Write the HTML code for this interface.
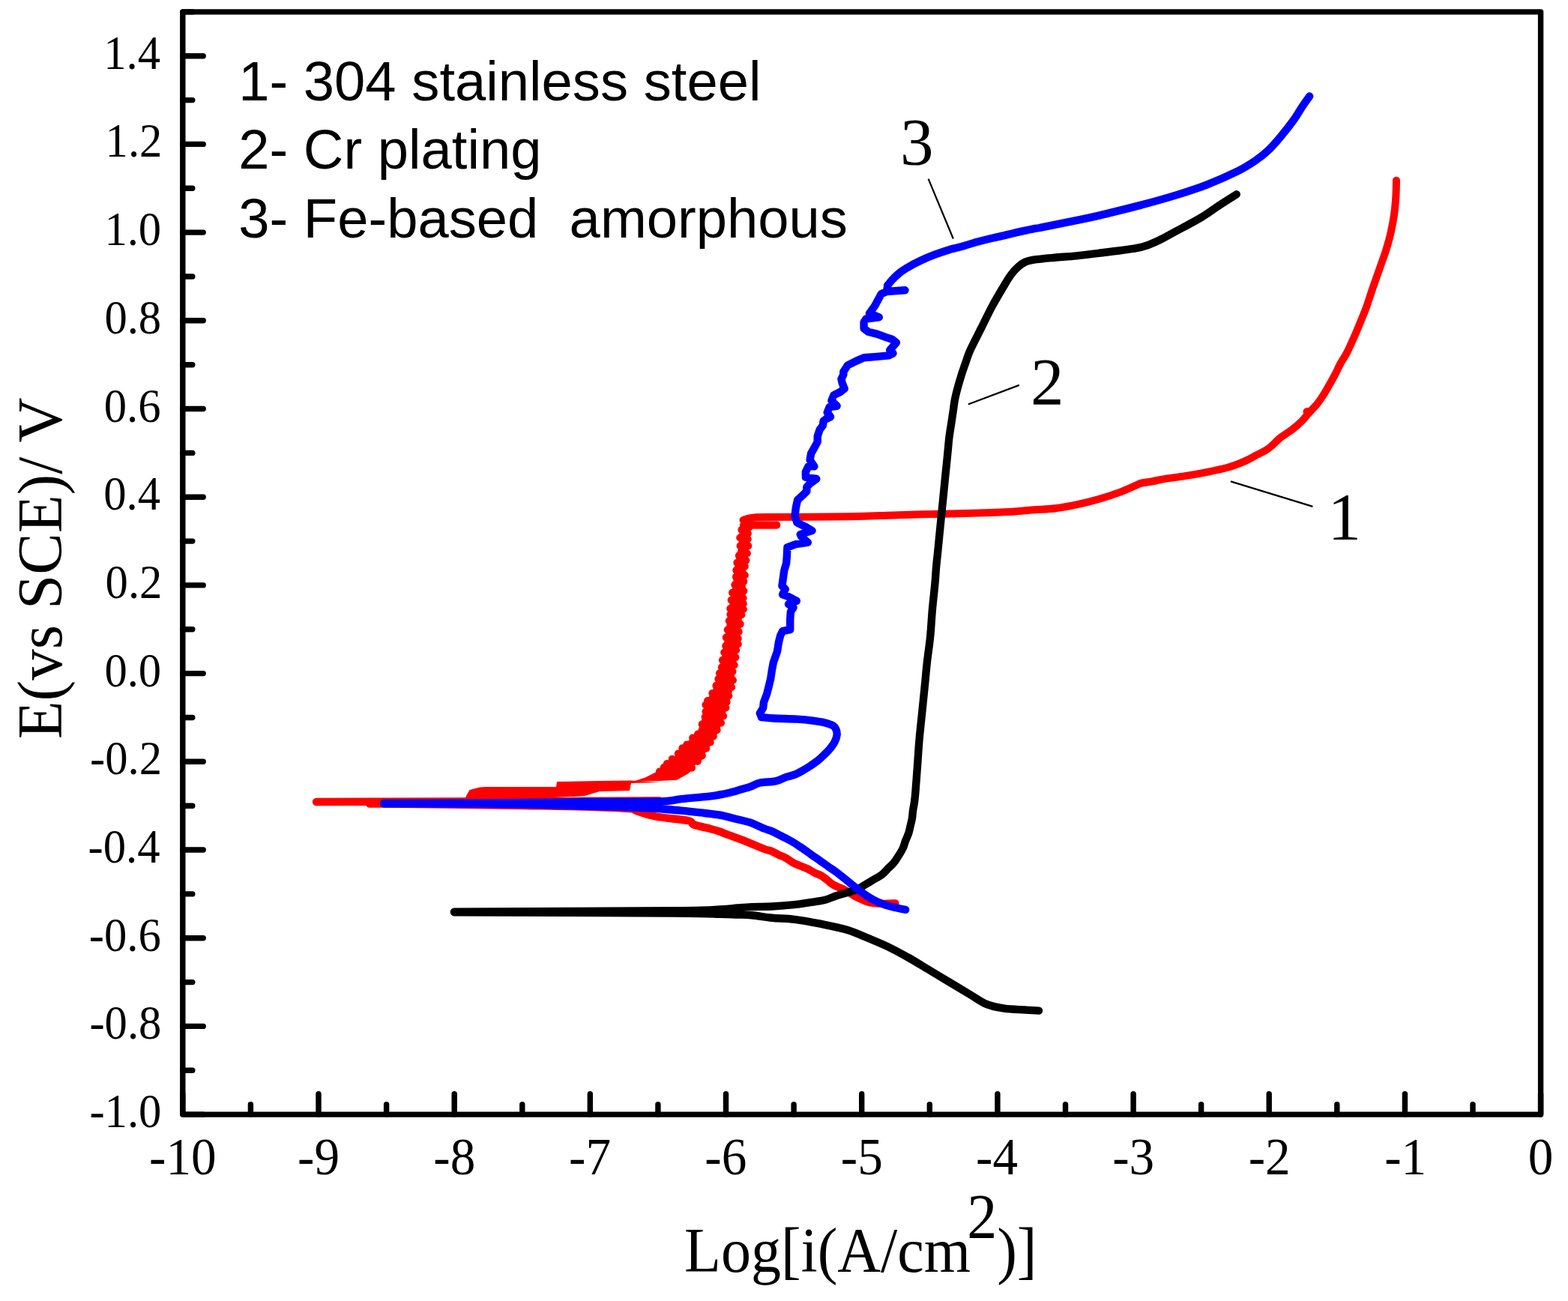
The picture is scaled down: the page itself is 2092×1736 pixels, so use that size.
<!DOCTYPE html><html><head><meta charset="utf-8"><title>Polarization curves</title>
<style>html,body{margin:0;padding:0;background:#fff;overflow:hidden}svg{display:block}</style></head><body>
<svg width="2092" height="1736" viewBox="0 0 2092 1736">
<rect width="100%" height="100%" fill="#fff"/>
<g id="curves">
<polygon points="622.8,1065.9 623.8,1062.8 627.9,1055.7 640.3,1052.5 648.1,1052 743.7,1052 744.7,1045 800,1044 842.3,1043.6 860.8,1037.5 878.2,1028.7 888,1017.7 901.4,1008 908.7,998.2 915.9,991 930.7,976.2 936.9,958.7 940.6,937.2 950.1,922.8 958.7,898.2 963.6,873.8 967.3,849.6 972.1,813.3 978.2,777.1 980.6,752.9 985.4,728.7 986.6,709.2 988.9,695 991.4,688.8 995.1,688.2 1000.1,694.7 1000.8,704.2 999.5,728.2 995.9,752.4 994.7,776.8 994.7,807.9 989.9,824.7 987.5,849 983.8,873.2 980.2,897.5 979,914.3 975.5,927.4 971.8,940.6 965.8,957.5 958.6,976.6 949,993.4 941.7,1003.1 938.2,1012.6 926.4,1022.1 919.2,1031.7 903,1040.8 879.9,1042 840.4,1043 838.4,1053 799.7,1054 779.7,1060 699.9,1064" fill="#ff0000"/>
<polygon points="620,1068 622,1062 626.6,1054 640,1050.5 648,1050 742,1050 743,1043 800,1042 842,1041.6 880,1044 842,1045 840,1055 800,1056 780,1062 700,1066" fill="#ff0000"/>
<g fill="#ff0000"><circle cx="879.9" cy="1029.6" r="5.1"/><circle cx="885.7" cy="1024.1" r="5.1"/><circle cx="889.9" cy="1019.1" r="5.1"/><circle cx="896.8" cy="1012.9" r="5.1"/><circle cx="904.8" cy="1005.5" r="5.1"/><circle cx="910.4" cy="998.3" r="5.1"/><circle cx="916.3" cy="993.5" r="5.1"/><circle cx="924.2" cy="984.6" r="5.1"/><circle cx="931" cy="979.5" r="5.1"/><circle cx="936.7" cy="966.4" r="5.1"/><circle cx="940.6" cy="956.8" r="5.1"/><circle cx="941.5" cy="949.5" r="5.1"/><circle cx="941.5" cy="940.6" r="5.1"/><circle cx="944.1" cy="935" r="5.1"/><circle cx="950.4" cy="925.1" r="5.1"/><circle cx="955.5" cy="914.9" r="5.1"/><circle cx="958.4" cy="906.1" r="5.1"/><circle cx="960" cy="898.3" r="5.1"/><circle cx="962.9" cy="890.4" r="5.1"/><circle cx="964" cy="880.9" r="5.1"/><circle cx="966.2" cy="870.5" r="5.1"/><circle cx="968.3" cy="861.8" r="5.1"/><circle cx="968.8" cy="850.7" r="5.1"/><circle cx="970.8" cy="840.4" r="5.1"/><circle cx="972.8" cy="828.4" r="5.1"/><circle cx="974.5" cy="819.8" r="5.1"/><circle cx="974.3" cy="812.1" r="5.1"/><circle cx="975.7" cy="800.7" r="5.1"/><circle cx="977.1" cy="790.9" r="5.1"/><circle cx="980.4" cy="780.4" r="5.1"/><circle cx="982" cy="769.7" r="5.1"/><circle cx="982.4" cy="760.8" r="5.1"/><circle cx="983.4" cy="750.8" r="5.1"/><circle cx="985.9" cy="741.4" r="5.1"/><circle cx="987.6" cy="728.4" r="5.1"/><circle cx="987.3" cy="717.5" r="5.1"/><circle cx="989.5" cy="706.9" r="5.1"/><circle cx="999" cy="704" r="5.1"/><circle cx="997.8" cy="711.9" r="5.1"/><circle cx="997.7" cy="719.5" r="5.1"/><circle cx="998.2" cy="728.4" r="5.1"/><circle cx="996.8" cy="738.3" r="5.1"/><circle cx="995.3" cy="747.8" r="5.1"/><circle cx="993.7" cy="755.7" r="5.1"/><circle cx="993.8" cy="767.5" r="5.1"/><circle cx="992.3" cy="775.9" r="5.1"/><circle cx="992.3" cy="788.6" r="5.1"/><circle cx="991.5" cy="798" r="5.1"/><circle cx="991.7" cy="805.4" r="5.1"/><circle cx="991.8" cy="813" r="5.1"/><circle cx="989.3" cy="820.4" r="5.1"/><circle cx="987.6" cy="832.7" r="5.1"/><circle cx="985.6" cy="843" r="5.1"/><circle cx="984.7" cy="852" r="5.1"/><circle cx="984.7" cy="859.5" r="5.1"/><circle cx="982.1" cy="867.5" r="5.1"/><circle cx="981.4" cy="877.1" r="5.1"/><circle cx="979.6" cy="887.4" r="5.1"/><circle cx="977.5" cy="896" r="5.1"/><circle cx="977.9" cy="907.6" r="5.1"/><circle cx="976" cy="917" r="5.1"/><circle cx="972.3" cy="928.5" r="5.1"/><circle cx="969.5" cy="936.8" r="5.1"/><circle cx="968.3" cy="944.3" r="5.1"/><circle cx="965.1" cy="955.3" r="5.1"/><circle cx="961.9" cy="964.6" r="5.1"/><circle cx="956.5" cy="974.2" r="5.1"/><circle cx="951.7" cy="982.6" r="5.1"/><circle cx="947.6" cy="990.5" r="5.1"/><circle cx="942.1" cy="998.7" r="5.1"/><circle cx="936.7" cy="1008.3" r="5.1"/><circle cx="930.7" cy="1015.9" r="5.1"/><circle cx="922.9" cy="1024.6" r="5.1"/></g>
<polyline points="422,1070 600,1069.5 880,1068.5" fill="none" stroke="#ff0000" stroke-width="10.4" stroke-linecap="round" stroke-linejoin="round"/>
<path d="M493 1072.5C510.8 1072.7 565.5 1073.1 600 1073.5C634.5 1073.9 670 1074.5 700 1075C730 1075.5 756.7 1075.8 780 1076.5C803.3 1077.2 828.5 1078.1 840 1079C851.5 1079.9 843.2 1080.2 849 1082C854.8 1083.8 863.5 1087.3 875 1089.5C886.5 1091.7 909.5 1093.2 918 1095C926.5 1096.8 921 1098.7 926 1100.5C931 1102.3 942.3 1104.5 948 1106C953.7 1107.5 956.2 1108.2 960 1109.5C963.8 1110.8 965 1111.6 970.6 1113.7C976.2 1115.8 985.3 1118.9 993.5 1122.1C1001.7 1125.3 1014 1130.7 1020 1133C1026 1135.3 1026.4 1134.6 1029.6 1135.9C1032.8 1137.2 1035.9 1139.2 1039.1 1140.7C1042.3 1142.2 1045.5 1143.2 1048.7 1145C1051.9 1146.8 1055 1149.5 1058.2 1151.2C1061.4 1153 1064.6 1154.2 1067.8 1155.5C1071 1156.8 1074.2 1157.8 1077.4 1159.3C1080.6 1160.8 1083.7 1163 1086.9 1164.6C1090.1 1166.2 1093.7 1167.2 1096.5 1168.9C1099.3 1170.6 1101.4 1172.5 1104 1174.5C1106.6 1176.5 1108.1 1178.5 1112.1 1180.8C1116.1 1183.1 1122.8 1185.3 1128.2 1188.1C1133.6 1190.9 1139 1195 1144.4 1197.7C1149.8 1200.4 1155.1 1202.9 1160.5 1204.2C1165.9 1205.5 1170.9 1205.6 1176.6 1205.8C1182.2 1206 1191.4 1205.5 1194.4 1205.4" fill="none" stroke="#ff0000" stroke-width="10.4" stroke-linecap="round" stroke-linejoin="round"/>
<path d="M991.5 694C992.9 693.6 996.9 692.1 1000 691.5C1003.1 690.9 1006.7 690.5 1010 690.3C1013.3 690.1 999.2 690.3 1020 690.1C1040.8 689.9 1106 689.8 1134.7 689.3C1163.4 688.8 1173 688 1192.1 687.4C1211.2 686.8 1230.3 686.4 1249.4 685.9C1268.5 685.4 1289.3 685 1306.8 684.4C1324.3 683.8 1342.4 683.1 1354.6 682.4C1366.8 681.7 1371 681 1380 680.3C1389 679.6 1399.1 679.4 1408.7 678.2C1418.3 677 1427.9 675.1 1437.4 673.1C1447 671.1 1456.5 668.8 1466 666C1475.5 663.2 1486.3 659.7 1494.7 656.6C1503.1 653.5 1511.4 649.3 1516.2 647.3C1521 645.3 1519.8 645.3 1523.4 644.5C1527 643.7 1532.9 643.1 1537.7 642.3C1542.5 641.4 1544.9 640.6 1552.1 639.4C1559.3 638.2 1571.2 636.6 1580.8 635.1C1590.4 633.6 1600 632 1609.5 630.1C1619 628.2 1629.7 626.1 1638.1 623.7C1646.5 621.3 1653.4 618.5 1659.7 615.8C1666 613.1 1670.7 610.3 1676.1 607.4C1681.5 604.5 1686.9 602.4 1692.3 598.5C1697.7 594.6 1703 588.3 1708.4 584C1713.8 579.7 1719.8 576.3 1724.5 572.7C1729.2 569.1 1733 565.9 1736.6 562.3C1740.2 558.7 1742.9 554.8 1746.3 551C1749.7 547.2 1753.7 543.5 1756.8 539.7C1759.9 535.9 1762.1 532.6 1764.8 528.4C1767.5 524.2 1770.2 519.4 1772.9 514.7C1775.6 510 1778.3 505.3 1781 500.2C1783.7 495.1 1786.3 488.9 1789 484C1791.7 479.1 1793.9 476.6 1797 470.6C1800.1 464.6 1804.2 455.3 1807.4 448.1C1810.6 440.9 1813.4 433.7 1816 427.4C1818.6 421.1 1820.3 417.3 1822.9 410.1C1825.5 402.9 1828.4 393.4 1831.6 384.2C1834.8 375 1838.9 363.4 1841.9 354.8C1844.9 346.2 1847.4 339.8 1849.7 332.3C1852 324.8 1854 317.7 1855.7 309.9C1857.4 302.1 1859 293.5 1860.1 285.7C1861.2 277.9 1861.8 270.7 1862.3 263.2C1862.8 255.7 1862.9 244.4 1863 240.7" fill="none" stroke="#ff0000" stroke-width="10" stroke-linecap="round" stroke-linejoin="round"/>
<polyline points="992,700.6 1036.3,700.6" fill="none" stroke="#ff0000" stroke-width="10.2" stroke-linecap="round" stroke-linejoin="round"/>
<circle cx="1744" cy="549.5" r="5.5" fill="#ff0000"/>
<path d="M606 1217.2C655 1217.4 840.8 1218.1 900 1218.5C959.2 1218.9 947 1219.5 961 1219.8C975 1220.1 977 1220.3 984 1220.5C991 1220.7 995.3 1220.5 1003 1221.2C1010.7 1221.9 1020.5 1223.8 1030 1224.7C1039.5 1225.6 1049.2 1225.5 1060 1226.8C1070.8 1228.1 1082.7 1230.3 1094.5 1232.7C1106.3 1235.1 1120.2 1237.7 1130.8 1240.9C1141.4 1244.1 1149 1248 1158.1 1251.8C1167.2 1255.6 1176.2 1259.2 1185.3 1263.6C1194.4 1268 1203.5 1273 1212.6 1278.1C1221.7 1283.2 1230.7 1289 1239.8 1294.4C1248.9 1299.9 1258 1305.3 1267.1 1310.8C1276.2 1316.2 1286.1 1322.2 1294.3 1327.1C1302.5 1331.9 1308.5 1336.8 1316.1 1339.9C1323.7 1343 1331.2 1344.4 1339.7 1345.7C1348.2 1347 1359.3 1347 1367 1347.5C1374.7 1348 1382.8 1348.4 1386 1348.6" fill="none" stroke="#000000" stroke-width="10.4" stroke-linecap="round" stroke-linejoin="round"/>
<path d="M606 1216.6C655 1216.4 840.8 1215.8 900 1215.3C959.2 1214.8 947 1214.1 961 1213.5C975 1212.9 977 1212.1 984 1211.5C991 1210.9 995.3 1210.4 1003 1210.1C1010.7 1209.8 1020.5 1210 1030 1209.5C1039.5 1209 1051.5 1208.1 1060 1207.2C1068.5 1206.3 1074 1205.1 1080.7 1204.1C1087.4 1203.1 1094.1 1202.5 1100 1201C1105.9 1199.5 1110.6 1197 1116 1195.3C1121.4 1193.5 1127.6 1192 1132.3 1190.5C1137 1189 1141.1 1188 1144.4 1186.5C1147.8 1185 1149.1 1183.6 1152.4 1181.6C1155.8 1179.6 1160.5 1176.8 1164.5 1174.4C1168.5 1172 1173.2 1169.7 1176.6 1167.1C1180 1164.5 1182 1161.7 1184.7 1159C1187.4 1156.3 1190.3 1154 1192.7 1151C1195.1 1148 1197.2 1144.5 1199.2 1141.3C1201.2 1138.1 1203.3 1134.8 1204.8 1131.6C1206.3 1128.4 1206.9 1125.1 1208.1 1121.9C1209.3 1118.7 1211 1115.5 1212.1 1112.3C1213.2 1109.1 1213.7 1106 1214.5 1102.6C1215.3 1099.2 1216.3 1095.5 1216.9 1092.1C1217.5 1088.7 1217.5 1085.7 1218 1082C1218.5 1078.3 1219.5 1074 1220 1070C1220.5 1066 1220.6 1066 1221.3 1058C1222 1050 1223.1 1033.8 1224 1022C1224.9 1010.2 1225.5 998.9 1226.5 987.4C1227.5 975.9 1228.8 964.3 1230 952.8C1231.2 941.3 1232.3 929.8 1233.5 918.3C1234.7 906.8 1235.6 895.2 1236.9 883.7C1238.2 872.2 1240.1 860.6 1241.2 849.1C1242.3 837.6 1242.8 826.1 1243.8 814.6C1244.8 803.1 1246.4 789.7 1247.3 780C1248.2 770.3 1248.5 763.3 1249.1 756.5C1249.7 749.7 1250.3 745 1250.9 739.2C1251.5 733.5 1252 727.8 1252.6 722C1253.2 716.2 1253.7 710.5 1254.3 704.7C1254.9 698.9 1255.4 693.2 1256 687.4C1256.6 681.6 1257.2 675.9 1257.8 670.1C1258.4 664.3 1258.9 658.6 1259.5 652.8C1260.1 647 1260.6 641.2 1261.2 635.5C1261.8 629.8 1262.4 624 1263 618.3C1263.6 612.5 1264.1 606.8 1264.7 601C1265.3 595.2 1265.7 589.5 1266.4 583.7C1267.1 577.9 1268.1 572.2 1269 566.4C1269.9 560.6 1270.7 554.9 1271.6 549.1C1272.5 543.3 1273 537.5 1274.2 531.8C1275.4 526 1276.9 520.4 1278.5 514.6C1280.1 508.9 1282 502.7 1283.7 497.3C1285.5 491.9 1287.2 487 1289 482C1290.8 477 1291.1 474.5 1294.5 467.1C1297.9 459.7 1304.3 447.5 1309.2 437.7C1314.1 427.9 1319 417.5 1323.9 408.4C1328.8 399.3 1334.5 389.8 1338.6 382.9C1342.7 376 1345.2 371.6 1348.4 367.2C1351.7 362.8 1354.8 359.3 1358.1 356.4C1361.3 353.5 1363.8 351.3 1367.9 349.6C1372 347.9 1376.1 347.2 1382.6 346.2C1389.1 345.2 1398.1 344.5 1407.1 343.7C1416.1 342.9 1426.7 342.3 1436.5 341.3C1446.3 340.3 1452 339.6 1465.9 337.8C1479.8 336 1506.7 333.2 1520 330.4C1533.3 327.6 1537.3 324.7 1545.6 321C1553.9 317.3 1560.5 313.1 1570 308C1579.5 302.9 1593 295.9 1602.5 290.2C1612 284.5 1619 279 1626.9 273.9C1634.8 268.8 1645.9 261.7 1649.7 259.3" fill="none" stroke="#000000" stroke-width="10.4" stroke-linecap="round" stroke-linejoin="round"/>
<path d="M512 1072.2C535 1072.3 605.3 1072 650 1072.6C694.7 1073.1 745 1074.6 780 1075.5C815 1076.4 838.5 1077 860 1078C881.5 1079 895.7 1080.4 909 1081.6C922.3 1082.8 931.5 1084 940 1085C948.5 1086 954.9 1086.7 960 1087.5C965.1 1088.3 966.3 1088.9 970.6 1089.9C974.9 1091 980.8 1092.5 985.9 1093.8C991 1095.1 995.5 1095.6 1001.2 1097.6C1006.9 1099.6 1015.3 1103.9 1020 1105.8C1024.7 1107.7 1026.4 1107.8 1029.6 1109.1C1032.8 1110.4 1035.9 1112.3 1039.1 1113.9C1042.3 1115.5 1045.5 1117 1048.7 1118.7C1051.9 1120.4 1055 1122 1058.2 1123.9C1061.4 1125.8 1064.6 1128.1 1067.8 1130.2C1071 1132.3 1074.2 1134.6 1077.4 1136.8C1080.6 1139 1083.7 1141.3 1086.9 1143.5C1090.1 1145.7 1093.3 1148 1096.5 1150.2C1099.7 1152.4 1102.7 1154.6 1106 1156.9C1109.3 1159.2 1111.7 1160.6 1116.1 1163.9C1120.5 1167.2 1126.9 1172.5 1132.3 1176.8C1137.7 1181.1 1143 1185.8 1148.4 1189.7C1153.8 1193.6 1159.1 1197.2 1164.5 1200.2C1169.9 1203.2 1175.2 1205.5 1180.6 1207.4C1186 1209.3 1192.2 1210.4 1196.8 1211.5C1201.4 1212.6 1206.2 1213.5 1208.1 1213.9" fill="none" stroke="#0000ff" stroke-width="10.4" stroke-linecap="round" stroke-linejoin="round"/>
<path d="M512 1072C535 1071.9 605.3 1071.8 650 1071.5C694.7 1071.2 741.7 1070.3 780 1070C818.3 1069.7 858.5 1070.2 880 1069.5C901.5 1068.8 898.3 1067.2 909 1066.1C919.7 1065 935.5 1063.8 944 1062.9C952.5 1062 955.3 1061.3 960 1060.5C964.7 1059.7 967.6 1059.2 972.4 1058C977.2 1056.8 984.1 1054.7 989 1053.3C993.9 1051.9 997.4 1051.2 1001.5 1049.7C1005.6 1048.2 1008.4 1045.7 1013.9 1044.5C1019.4 1043.3 1029 1043.6 1034.7 1042.4C1040.4 1041.2 1043.6 1038.8 1048.1 1037.2C1052.6 1035.7 1057.3 1034.9 1061.6 1033.1C1065.9 1031.3 1069.4 1029.2 1074.1 1026.4C1078.8 1023.6 1085.6 1019 1089.6 1016C1093.6 1013 1095.1 1011.3 1097.9 1008.7C1100.7 1006.1 1103.6 1003.5 1106.2 1000.4C1108.8 997.3 1111.8 993.4 1113.5 990.1C1115.2 986.8 1116.3 983.5 1116.6 980.7C1116.9 977.9 1116.4 975.6 1115.5 973.5C1114.6 971.4 1114 969.8 1111.4 968.3C1108.8 966.8 1104.5 965.3 1100 964.2C1095.5 963.1 1090.5 962.4 1084.4 961.6C1078.4 960.8 1072.3 960.1 1063.7 959.6C1055.1 959.1 1040.5 958.9 1032.6 958.5C1024.6 958.1 1018.8 957.2 1016 957" fill="none" stroke="#0000ff" stroke-width="10.4" stroke-linecap="round" stroke-linejoin="round"/>
<polyline points="1016,957 1013.8,951.7 1018.2,944.5 1018.9,937.3 1023.2,925.8 1026.1,914.2 1028.2,905.6 1029.7,895.5 1031.8,884 1036.9,869.6 1039,856.6 1041.2,848 1044.1,842.2 1054.2,840.1 1054.2,826.4 1054.9,816.3 1058.5,810.6 1052,806.2 1062.8,801.9 1052,796.2 1044.1,793.3 1047.7,786.1 1043.4,781.8 1044.8,771.7 1046.2,761.6 1049.1,751.5 1049.8,742.9 1050.4,730.4 1061.9,726.1 1077.8,723.9 1069.1,716 1067.7,713.1 1083.5,708.1 1074.9,703 1063.4,697.3 1060.5,688.6 1061.9,677.1 1064.1,667.1 1072,659.9 1076.3,655.5 1076.3,649.8 1080.6,645.4 1089.3,639 1074.9,636.8 1074.9,629.6 1078.5,622.4 1086.4,622.4 1080.6,613.8 1082.1,605.1 1087.8,595 1090.7,589.3 1090.7,582.1 1093.6,573.4 1097.9,567.7 1098.6,561.9 1102.2,559 1108,556.2 1103.7,550.4 1106.6,543.2 1116.6,541.8 1109.4,534.6 1112.3,527.4 1121,523 1126.7,518.7 1123.8,511.5 1122.4,505.8 1125.3,500 1125.3,496 1131,487.4 1142.6,481.6 1152.6,477.3 1170,475.9 1185.8,474.4 1191.5,471.5 1187.2,467.2 1195.9,457.1 1190.1,452.8 1181.5,449.9 1169.9,445.6 1158.4,442.7 1152.6,438.4 1152.6,429.8 1155.5,425.5 1172.8,423.3 1159.9,418.2 1167.1,408.2 1175.7,392.3 1183,389 1207.5,387.3 1183,389 1184.3,380.8" fill="none" stroke="#0000ff" stroke-width="10.4" stroke-linecap="round" stroke-linejoin="round"/>
<path d="M1184.3 380.8C1185.2 379.6 1187.5 376.4 1190 373.7C1192.5 371 1196.4 367.2 1199.6 364.6C1202.8 362 1204.3 360.7 1209.1 357.9C1213.9 355.1 1221.8 350.8 1228.2 347.8C1234.6 344.8 1241 342.1 1247.4 339.7C1253.8 337.3 1260.1 335.1 1266.5 333.2C1272.9 331.3 1279.2 330 1285.6 328.2C1292 326.4 1298.3 324.2 1304.7 322.5C1311.1 320.8 1317.4 319.2 1323.8 317.7C1330.2 316.2 1336.6 314.9 1343 313.4C1349.4 311.9 1355.7 310.2 1362.1 308.8C1368.5 307.4 1376.5 305.7 1381.2 304.8C1385.9 303.9 1379 305.5 1390 303.4C1401 301.2 1433.2 294.8 1446.9 291.9C1460.7 289 1460.1 289.1 1472.5 286.1C1484.9 283.1 1505 278.2 1521.3 273.9C1537.5 269.6 1555.1 264.7 1570 260.1C1584.9 255.5 1597 251.6 1610.6 246.3C1624.1 241 1640.4 233.8 1651.3 228.4C1662.2 223 1668.9 218.4 1675.7 213.8C1682.5 209.2 1686.5 206 1691.9 200.8C1697.3 195.7 1702.5 189.7 1708.2 182.9C1713.9 176.1 1721.1 166.9 1726 160.1C1730.9 153.3 1733.9 147.6 1737.4 142.3C1740.9 137 1745.6 130.7 1747.2 128.4" fill="none" stroke="#0000ff" stroke-width="10.4" stroke-linecap="round" stroke-linejoin="round"/>
</g>
<g stroke="#000" stroke-width="2.2" stroke-linecap="butt">
<line x1="1238.6" y1="238.7" x2="1271.8" y2="318.5"/>
<line x1="1291.8" y1="539.5" x2="1359.9" y2="513.9"/>
<line x1="1641.9" y1="642.4" x2="1751.4" y2="675.9"/>
</g>
<text font-family="Liberation Serif, Times New Roman, serif" font-size="89" fill="#000" x="1201" y="219">3</text>
<text font-family="Liberation Serif, Times New Roman, serif" font-size="89" fill="#000" x="1375" y="538.8">2</text>
<text font-family="Liberation Serif, Times New Roman, serif" font-size="89" fill="#000" x="1771.6" y="718.9">1</text>
<g stroke="#000" stroke-width="7.4" stroke-linecap="round" fill="none">
<rect x="243.8" y="15.9" width="1811.8" height="1471.2" stroke-linejoin="round"/>
<path d="M243.8 1487.1H271.2M243.8 1428.3H256.8M243.8 1369.4H271.2M243.8 1310.6H256.8M243.8 1251.7H271.2M243.8 1192.9H256.8M243.8 1134H271.2M243.8 1075.2H256.8M243.8 1016.3H271.2M243.8 957.5H256.8M243.8 898.6H271.2M243.8 839.8H256.8M243.8 780.9H271.2M243.8 722.1H256.8M243.8 663.2H271.2M243.8 604.4H256.8M243.8 545.5H271.2M243.8 486.7H256.8M243.8 427.8H271.2M243.8 369H256.8M243.8 310.1H271.2M243.8 251.3H256.8M243.8 192.4H271.2M243.8 133.6H256.8M243.8 74.7H271.2M243.8 15.9H256.8M243.8 1487.1V1459.7M334.4 1487.1V1473.6M425 1487.1V1459.7M515.6 1487.1V1473.6M606.2 1487.1V1459.7M696.8 1487.1V1473.6M787.3 1487.1V1459.7M877.9 1487.1V1473.6M968.5 1487.1V1459.7M1059.1 1487.1V1473.6M1149.7 1487.1V1459.7M1240.3 1487.1V1473.6M1330.9 1487.1V1459.7M1421.5 1487.1V1473.6M1512.1 1487.1V1459.7M1602.6 1487.1V1473.6M1693.2 1487.1V1459.7M1783.8 1487.1V1473.6M1874.4 1487.1V1459.7M1965 1487.1V1473.6M2055.6 1487.1V1459.7"/>
</g>
<text font-family="Liberation Serif, Times New Roman, serif" fill="#000" font-size="63.5" transform="translate(119.4 1504.1) scale(0.955 1)">-1.0</text>
<text font-family="Liberation Serif, Times New Roman, serif" fill="#000" font-size="63.5" transform="translate(119.4 1386.4) scale(0.955 1)">-0.8</text>
<text font-family="Liberation Serif, Times New Roman, serif" fill="#000" font-size="63.5" transform="translate(118.8 1268.7) scale(0.955 1)">-0.6</text>
<text font-family="Liberation Serif, Times New Roman, serif" fill="#000" font-size="63.5" transform="translate(117.6 1151) scale(0.955 1)">-0.4</text>
<text font-family="Liberation Serif, Times New Roman, serif" fill="#000" font-size="63.5" transform="translate(120 1033.3) scale(0.955 1)">-0.2</text>
<text font-family="Liberation Serif, Times New Roman, serif" fill="#000" font-size="63.5" transform="translate(139.4 915.6) scale(0.955 1)">0.0</text>
<text font-family="Liberation Serif, Times New Roman, serif" fill="#000" font-size="63.5" transform="translate(140.6 797.9) scale(0.955 1)">0.2</text>
<text font-family="Liberation Serif, Times New Roman, serif" fill="#000" font-size="63.5" transform="translate(138.2 680.2) scale(0.955 1)">0.4</text>
<text font-family="Liberation Serif, Times New Roman, serif" fill="#000" font-size="63.5" transform="translate(138.8 562.5) scale(0.955 1)">0.6</text>
<text font-family="Liberation Serif, Times New Roman, serif" fill="#000" font-size="63.5" transform="translate(139.4 444.8) scale(0.955 1)">0.8</text>
<text font-family="Liberation Serif, Times New Roman, serif" fill="#000" font-size="63.5" transform="translate(139.4 327.1) scale(0.955 1)">1.0</text>
<text font-family="Liberation Serif, Times New Roman, serif" fill="#000" font-size="63.5" transform="translate(140.6 209.4) scale(0.955 1)">1.2</text>
<text font-family="Liberation Serif, Times New Roman, serif" fill="#000" font-size="63.5" transform="translate(138.2 91.7) scale(0.955 1)">1.4</text>
<text font-family="Liberation Serif, Times New Roman, serif" fill="#000" font-size="70" transform="translate(199.1 1566.9) scale(0.96 1)">-10</text>
<text font-family="Liberation Serif, Times New Roman, serif" fill="#000" font-size="70" transform="translate(397.1 1566.9) scale(0.96 1)">-9</text>
<text font-family="Liberation Serif, Times New Roman, serif" fill="#000" font-size="70" transform="translate(578.3 1566.9) scale(0.96 1)">-8</text>
<text font-family="Liberation Serif, Times New Roman, serif" fill="#000" font-size="70" transform="translate(759.1 1566.9) scale(0.96 1)">-7</text>
<text font-family="Liberation Serif, Times New Roman, serif" fill="#000" font-size="70" transform="translate(940.3 1566.9) scale(0.96 1)">-6</text>
<text font-family="Liberation Serif, Times New Roman, serif" fill="#000" font-size="70" transform="translate(1121.8 1566.9) scale(0.96 1)">-5</text>
<text font-family="Liberation Serif, Times New Roman, serif" fill="#000" font-size="70" transform="translate(1302 1566.9) scale(0.96 1)">-4</text>
<text font-family="Liberation Serif, Times New Roman, serif" fill="#000" font-size="70" transform="translate(1484.2 1566.9) scale(0.96 1)">-3</text>
<text font-family="Liberation Serif, Times New Roman, serif" fill="#000" font-size="70" transform="translate(1665.7 1566.9) scale(0.96 1)">-2</text>
<text font-family="Liberation Serif, Times New Roman, serif" fill="#000" font-size="70" transform="translate(1847.2 1566.9) scale(0.96 1)">-1</text>
<text font-family="Liberation Serif, Times New Roman, serif" fill="#000" font-size="70" transform="translate(2038.8 1566.9) scale(0.96 1)">0</text>
<text font-family="Liberation Serif, Times New Roman, serif" fill="#000" font-size="84" transform="translate(913.1 1696.6) scale(0.952 1)">Log[i(A/cm<tspan dx="-5" dy="-44.9">2</tspan><tspan dy="44.9">)]</tspan></text>
<text font-family="Liberation Serif, Times New Roman, serif" fill="#000" font-size="84.6" transform="translate(82.2 986.2) rotate(-90) scale(0.983 1)">E(vs SCE)/ V</text>
<text font-family="Liberation Sans, Arial, Helvetica, sans-serif" fill="#000" font-size="74.6" transform="translate(318.2 134.2) scale(0.995 1)" xml:space="preserve" style="white-space:pre">1- 304 stainless steel</text>
<text font-family="Liberation Sans, Arial, Helvetica, sans-serif" fill="#000" font-size="74.6" transform="translate(318.2 225.4) scale(0.995 1)" xml:space="preserve" style="white-space:pre">2- Cr plating</text>
<text font-family="Liberation Sans, Arial, Helvetica, sans-serif" fill="#000" font-size="74.6" transform="translate(318.2 316.8) scale(0.995 1)" xml:space="preserve" style="white-space:pre">3- Fe-based  amorphous</text>
</svg></body></html>
